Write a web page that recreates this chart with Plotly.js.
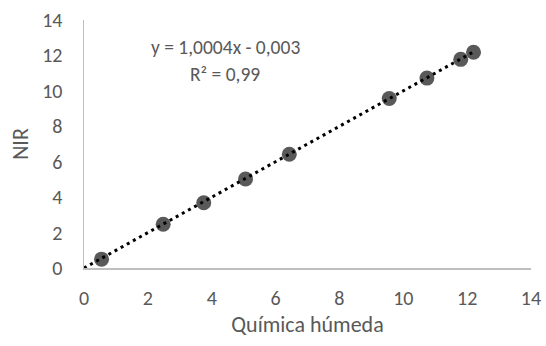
<!DOCTYPE html>
<html>
<head>
<meta charset="utf-8">
<script src="https://cdn.plot.ly/plotly-3.0.1.min.js"></script>
<style>html,body{margin:0;padding:0;background:#fff;}#chart{width:546px;height:346px;}</style>
</head>
<body>
<div id="chart"></div>
<script>
var quimicaHumeda = [0.55, 2.48, 3.75, 5.06, 6.43, 9.56, 10.74, 11.8, 12.2];
var nir = [0.5, 2.47, 3.68, 5.02, 6.42, 9.57, 10.72, 11.78, 12.18];
var slope = 1.0004;
var intercept = -0.003;
var equationText = "y = 1,0004x - 0,003";
var r2Text = "R² = 0,99";
var xTitle = "Química húmeda";
var yTitle = "NIR";
var tickVals = [0, 2, 4, 6, 8, 10, 12, 14];

var trendX = [0, Math.max.apply(null, quimicaHumeda)];
var trendY = trendX.map(function (x) { return slope * x + intercept; });

var font = "Carlito, 'Open Sans', 'Liberation Sans', sans-serif";
var gray = "#595959";

var data = [
  {
    x: quimicaHumeda, y: nir, type: "scatter", mode: "markers",
    marker: { color: "#595959", size: 15, line: { width: 0 } },
    hoverinfo: "none", showlegend: false
  },
  {
    x: trendX, y: trendY, type: "scatter", mode: "lines",
    line: { color: "#000000", width: 3, dash: "3px,4px" },
    hoverinfo: "none", showlegend: false
  }
];

var layout = {
  width: 546, height: 346,
  margin: { l: 84, r: 15, t: 20, b: 78 },
  paper_bgcolor: "#ffffff", plot_bgcolor: "#ffffff",
  font: { family: font, color: gray, size: 20 },
  xaxis: {
    range: [0, 14], tickvals: tickVals, showgrid: false, zeroline: false,
    showline: true, linecolor: "#bfbfbf", linewidth: 1.5, ticks: "",
    tickfont: { size: 20, color: gray }, ticklabelstandoff: 11,
    title: { text: xTitle, font: { size: 22, color: gray }, standoff: 8 },
    automargin: false
  },
  yaxis: {
    range: [0, 14], tickvals: tickVals, showgrid: false, zeroline: false,
    showline: true, linecolor: "#bfbfbf", linewidth: 1.5, ticks: "",
    tickfont: { size: 20, color: gray }, ticklabelstandoff: 16,
    title: { text: yTitle, font: { size: 22, color: gray }, standoff: 7 },
    automargin: false
  },
  annotations: [
    { xref: "paper", yref: "paper", x: (225 - 84) / 447, y: (268 - 47) / 248,
      text: equationText, showarrow: false, font: { size: 19.5, color: gray },
      xanchor: "center", yanchor: "middle" },
    { xref: "paper", yref: "paper", x: (225 - 84) / 447, y: (268 - 74) / 248,
      text: r2Text, showarrow: false, font: { size: 19.5, color: gray },
      xanchor: "center", yanchor: "middle" }
  ]
};

Plotly.newPlot("chart", data, layout, { staticPlot: true, displayModeBar: false });
</script>
</body>
</html>
